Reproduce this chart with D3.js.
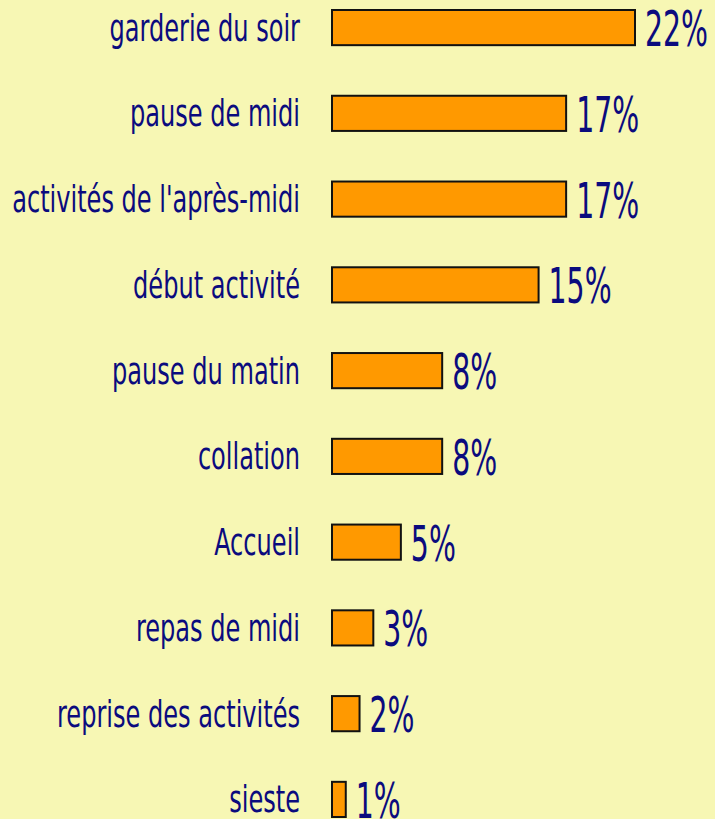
<!DOCTYPE html>
<html>
<head>
<meta charset="utf-8">
<script src="https://cdn.jsdelivr.net/npm/d3@7"></script>
<style>
  html, body { margin: 0; padding: 0; background: #f7f7b4; overflow: hidden; }
  svg { display: block; }
  text { font-family: 'Liberation Sans Narrow', 'DejaVu Sans Condensed', sans-serif; fill: #0b0b7e; }
</style>
</head>
<body>
<script>
'use strict'

const categories = ['garderie du soir', 'pause de midi', "activités de l'après-midi", 'début activité',
  'pause du matin', 'collation', 'Accueil', 'repas de midi', 'reprise des activités', 'sieste']
const values = [22, 17, 17, 15, 8, 8, 5, 3, 2, 1]
const valueLabels = ['22%', '17%', '17%', '15%', '8%', '8%', '5%', '3%', '2%', '1%']

const width = 715
const height = 819

const rows = categories.map((c, i) => ({ name: c, value: values[i], label: valueLabels[i] }))

const svg = d3.select('body').append('svg')
  .attr('width', width)
  .attr('height', height)

const x = d3.scaleLinear()
  .domain([0, 22])
  .range([332, 635])

const y = d3.scaleBand()
  .domain(categories)
  .range([10, 817])
  .paddingInner(0.59)
  .paddingOuter(0)

const groups = svg.selectAll('.row')
  .data(rows)
  .enter()
  .append('g')
    .attr('class', 'row')
    .attr('transform', d => `translate(0,${y(d.name)})`)

groups.append('rect')
  .attr('x', x(0))
  .attr('width', d => x(d.value) - x(0))
  .attr('height', y.bandwidth())
  .style('fill', '#ff9900')
  .style('stroke', '#111')
  .style('stroke-width', 2)

// category names, squeezed to match the very narrow face of the original
const names = groups.append('text')
  .attr('text-anchor', 'end')
  .style('font-size', '37px')
  .attr('y', y.bandwidth() / 2 + 13)
  .text(d => d.name)

let widest = 0
names.each(function () { widest = Math.max(widest, this.getComputedTextLength()) })
const sx = 288 / widest
names.attr('transform', `translate(300,0) scale(${sx},1)`)

const nums = groups.append('text')
  .style('font-size', '50px')
  .attr('y', y.bandwidth() + 1)
  .text(d => d.label)

let w22 = 0
nums.each(function (d) { if (d.label === '22%') w22 = this.getComputedTextLength() })
const nx = 63 / w22
nums.attr('transform', d => `translate(${x(d.value) + 10},0) scale(${nx},1)`)
</script>
</body>
</html>
